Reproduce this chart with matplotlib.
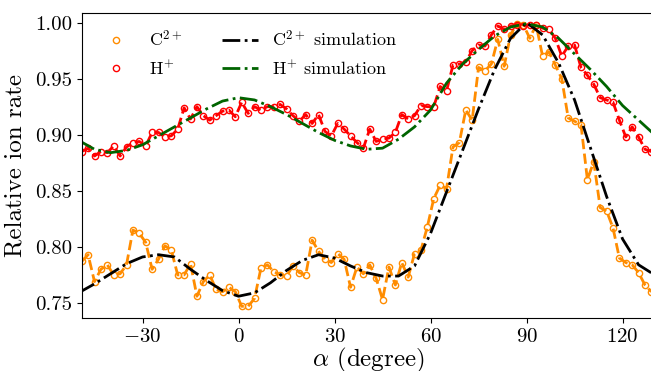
import numpy as np
import matplotlib
matplotlib.use("Agg")
import matplotlib.pyplot as plt

plt.rcParams['font.family'] = 'serif'
plt.rcParams['font.serif'] = ['cmr10']
plt.rcParams['mathtext.fontset'] = 'cm'
plt.rcParams['axes.formatter.use_mathtext'] = True

# measured points, every 2 degrees
alpha = np.arange(-49, 130, 2)

c2_rate = [0.787, 0.793, 0.769, 0.780, 0.784, 0.775, 0.776, 0.784, 0.815, 0.812,
           0.804, 0.780, 0.789, 0.801, 0.797, 0.775, 0.775, 0.785, 0.756, 0.769,
           0.775, 0.762, 0.760, 0.764, 0.760, 0.747, 0.747, 0.754, 0.781, 0.784,
           0.778, 0.775, 0.774, 0.783, 0.777, 0.775, 0.806, 0.796, 0.789, 0.786,
           0.794, 0.789, 0.764, 0.782, 0.776, 0.784, 0.772, 0.753, 0.782, 0.766,
           0.786, 0.773, 0.794, 0.797, 0.818, 0.843, 0.855, 0.852, 0.889, 0.893,
           0.922, 0.913, 0.960, 0.957, 0.963, 0.985, 0.961, 0.989, 0.999, 0.998,
           0.986, 0.998, 0.970, 0.974, 0.962, 0.950, 0.915, 0.912, 0.909, 0.860,
           0.876, 0.835, 0.832, 0.817, 0.790, 0.786, 0.784, 0.777, 0.766, 0.760]

h_rate = [0.885, 0.888, 0.881, 0.885, 0.884, 0.890, 0.881, 0.889, 0.893, 0.894,
          0.890, 0.902, 0.902, 0.898, 0.899, 0.905, 0.924, 0.914, 0.925, 0.917,
          0.913, 0.917, 0.921, 0.922, 0.916, 0.929, 0.919, 0.925, 0.922, 0.925,
          0.925, 0.927, 0.923, 0.917, 0.912, 0.918, 0.910, 0.918, 0.903, 0.899,
          0.910, 0.905, 0.899, 0.893, 0.888, 0.905, 0.894, 0.896, 0.897, 0.902,
          0.918, 0.914, 0.917, 0.926, 0.925, 0.925, 0.943, 0.939, 0.962, 0.963,
          0.965, 0.975, 0.980, 0.979, 0.989, 0.997, 0.994, 0.997, 0.998, 0.997,
          0.998, 0.998, 0.995, 0.994, 0.986, 0.970, 0.979, 0.980, 0.960, 0.953,
          0.945, 0.933, 0.931, 0.929, 0.913, 0.898, 0.907, 0.898, 0.887, 0.885]

# simulation curves, every 5 degrees
alpha_sim = np.arange(-50, 131, 5)

c2_sim = [0.759, 0.767, 0.776, 0.785, 0.791, 0.793, 0.791, 0.780, 0.770, 0.761,
          0.756, 0.759, 0.768, 0.779, 0.788, 0.793, 0.790, 0.783, 0.777, 0.774,
          0.774, 0.783, 0.812, 0.849, 0.886, 0.923, 0.958, 0.986, 1.000, 0.989,
          0.964, 0.931, 0.888, 0.845, 0.807, 0.784, 0.775]

h_sim = [0.895, 0.887, 0.884, 0.886, 0.891, 0.899, 0.907, 0.915, 0.923, 0.930,
         0.933, 0.931, 0.925, 0.918, 0.910, 0.902, 0.895, 0.890, 0.887, 0.888,
         0.896, 0.907, 0.922, 0.946, 0.963, 0.976, 0.988, 0.996, 0.999, 0.996,
         0.986, 0.972, 0.958, 0.943, 0.926, 0.913, 0.900]

fig = plt.figure(figsize=(6.51, 3.71), dpi=100)
ax = fig.add_axes([0.1255, 0.1429, 0.88, 0.822])

ax.plot(alpha, c2_rate, '--', color='darkorange', lw=2)
ax.plot(alpha, c2_rate, 'o', color='darkorange', mfc='none', ms=4.5, mew=1, label=r'C$^{2+}$')
ax.plot(alpha, h_rate, '--', color='red', lw=2)
ax.plot(alpha, h_rate, 'o', color='red', mfc='none', ms=4.5, mew=1, label=r'H$^{+}$')
ax.plot(alpha_sim, c2_sim, '-.', color='black', lw=2, label=r'C$^{2+}$ simulation')
ax.plot(alpha_sim, h_sim, '-.', color='darkgreen', lw=2, label=r'H$^{+}$ simulation')

ax.set_xlim(-49, 130)
ax.set_ylim(0.7366, 1.0085)
ax.set_xticks([-30, 0, 30, 60, 90, 120])
ax.set_yticks([0.75, 0.80, 0.85, 0.90, 0.95, 1.00])
ax.set_yticklabels(['0.75', '0.80', '0.85', '0.90', '0.95', '1.00'])
ax.tick_params(labelsize=15)
ax.set_xlabel(r'$\alpha$ (degree)', fontsize=18, labelpad=0)
ax.set_ylabel('Relative ion rate', fontsize=18, labelpad=6)

ax.legend(loc='upper left', ncol=2, frameon=False, fontsize=13, columnspacing=2.2)

fig.savefig('out.png', dpi=100)
